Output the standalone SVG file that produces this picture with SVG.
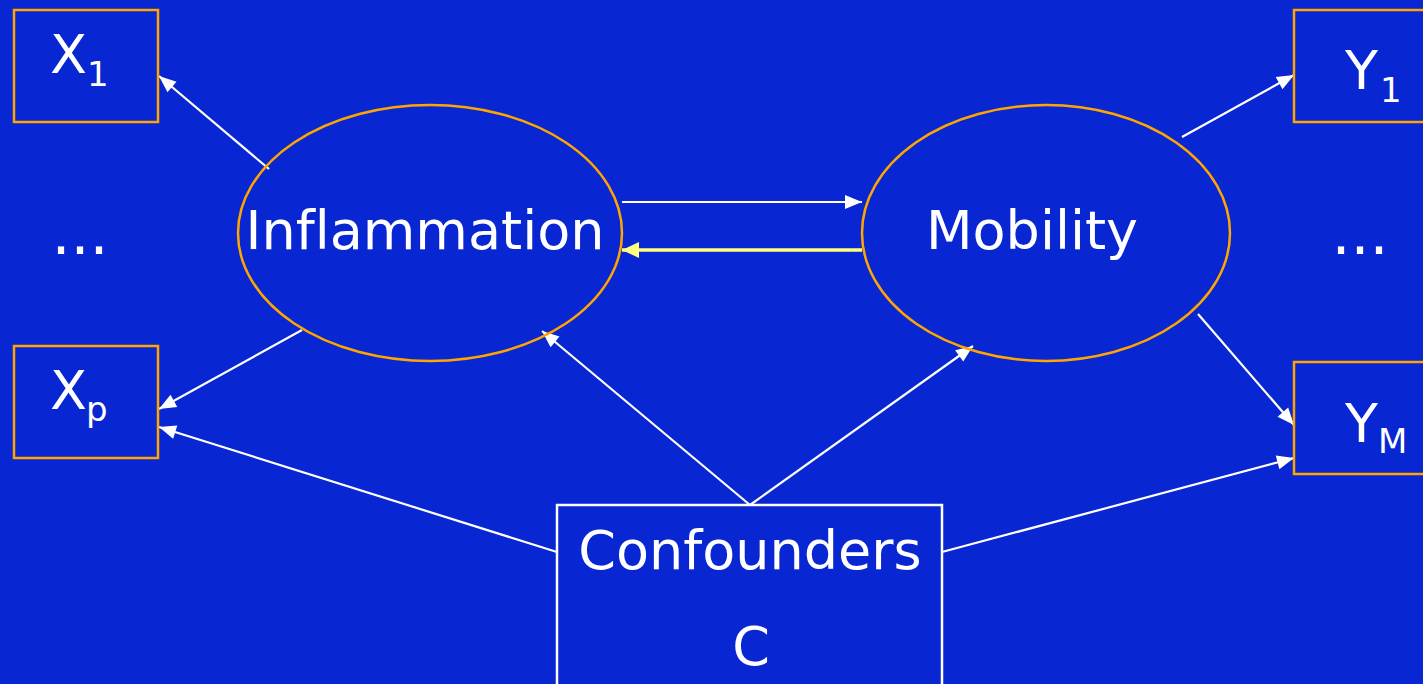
<svg xmlns="http://www.w3.org/2000/svg" width="1423" height="684" viewBox="0 0 1423 684">
<defs>
<style>
.box{fill:none;stroke:#FFA500;stroke-width:2.5}
.ell{fill:none;stroke:#FFA500;stroke-width:2.5}
.cbox{fill:none;stroke:#FFFFFF;stroke-width:2.5}
.t{font-family:"DejaVu Sans","Verdana",sans-serif;fill:#FFFFFF;font-variant-ligatures:none}
.big{font-size:54px}
.sub{font-size:34px}
.e{stroke:#FFFFFF;stroke-width:2.2;fill:none}
.ey{stroke:#FFFF80;stroke-width:3.5;fill:none}
</style>
<marker id="aw" markerUnits="userSpaceOnUse" markerWidth="18" markerHeight="16" refX="17" refY="8" orient="auto" overflow="visible">
<path d="M0,1 L17,8 L0,15 z" fill="#FFFFFF"/>
</marker>
<marker id="ay" markerUnits="userSpaceOnUse" markerWidth="18" markerHeight="18" refX="17" refY="9" orient="auto" overflow="visible">
<path d="M0,1 L17,9 L0,17 z" fill="#FFFF80"/>
</marker>
</defs>
<rect x="0" y="0" width="1423" height="684" fill="#0826D2"/>

<g id="connectors">
<line class="e" x1="269" y1="169" x2="159" y2="76" marker-end="url(#aw)"/>
<line class="e" x1="302" y1="330" x2="159" y2="409" marker-end="url(#aw)"/>
<line class="e" x1="557" y1="552" x2="159" y2="427" marker-end="url(#aw)"/>
<line class="e" x1="750" y1="505" x2="542" y2="331" marker-end="url(#aw)"/>
<line class="e" x1="750" y1="505" x2="973" y2="346" marker-end="url(#aw)"/>
<line class="e" x1="942" y1="552" x2="1294" y2="458" marker-end="url(#aw)"/>
<line class="e" x1="1182" y1="137" x2="1294" y2="75" marker-end="url(#aw)"/>
<line class="e" x1="1198" y1="314" x2="1294" y2="425" marker-end="url(#aw)"/>
<line class="e" x1="622" y1="202" x2="862" y2="202" marker-end="url(#aw)"/>
<line class="ey" x1="862" y1="250" x2="622" y2="250" marker-end="url(#ay)"/>
</g>

<g id="x1">
<rect class="box" x="14" y="10" width="144" height="112"/>
<text class="t big" x="50" y="73">X</text>
<text class="t sub" x="87" y="86">1</text>
</g>
<g id="xdots">
<text class="t big" x="80" y="254" text-anchor="middle" style="font-size:60px">...</text>
</g>
<g id="xp">
<rect class="box" x="14" y="346" width="144" height="112"/>
<text class="t big" x="50" y="409">X</text>
<text class="t sub" x="86" y="421">p</text>
</g>
<g id="y1">
<rect class="box" x="1294" y="10" width="140" height="112"/>
<text class="t big" x="1345" y="89">Y</text>
<text class="t sub" x="1380" y="102">1</text>
</g>
<g id="ydots">
<text class="t big" x="1360" y="254" text-anchor="middle" style="font-size:60px">...</text>
</g>
<g id="ym">
<rect class="box" x="1294" y="362" width="140" height="112"/>
<text class="t big" x="1345" y="442">Y</text>
<text class="t sub" x="1378" y="453">M</text>
</g>
<g id="inflammation">
<ellipse class="ell" cx="430" cy="233" rx="192" ry="128"/>
<text class="t big" x="425" y="249" text-anchor="middle">Inflammation</text>
</g>
<g id="mobility">
<ellipse class="ell" cx="1046" cy="233" rx="184" ry="128"/>
<text class="t big" x="1032" y="249" text-anchor="middle">Mobility</text>
</g>
<g id="confounders">
<rect class="cbox" x="557" y="505" width="385" height="190"/>
<text class="t big" x="750" y="569" text-anchor="middle">Confounders</text>
<text class="t big" x="751" y="665" text-anchor="middle">C</text>
</g>
</svg>
